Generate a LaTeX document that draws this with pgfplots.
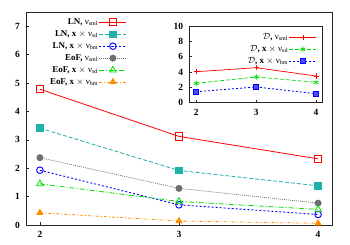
\documentclass[border=0pt]{standalone}
\usepackage{pgfplots}
\pgfplotsset{compat=1.18}
\usepackage{fontspec}
\setmainfont{Liberation Serif}
\definecolor{cred}{RGB}{255,0,0}
\definecolor{cteal}{RGB}{32,178,170}
\definecolor{cblue}{RGB}{0,0,255}
\definecolor{cgray}{RGB}{110,110,110}
\definecolor{cgreen}{RGB}{0,220,0}
\definecolor{corange}{RGB}{255,140,0}
\newcommand{\nus}[1]{{\mdseries ν\textsubscript{#1}}}
\begin{document}
\begin{tikzpicture}
\useasboundingbox (0,0) rectangle (350bp,245bp);
\pgfplotsset{
  gp/.style={
    scale only axis, anchor=south west,
    tick align=inside, tick pos=left, major tick length=3bp,
    axis line style={line width=0.7bp, black!85},
    every tick/.style={black!85, line width=0.5bp},
    /pgf/number format/assume math mode=true,
    ticklabel style={font=\fontsize{9.5}{10}\selectfont\bfseries},
    yticklabel style={xshift=-2.5bp},
    xticklabel style={yshift=-3bp},
    legend style={draw=none, fill=none, font=\fontsize{9}{10}\selectfont\bfseries,
      row sep=0pt, nodes={inner sep=1pt, text height=7.5pt, text depth=2.5pt}},
    legend cell align=right, legend plot pos=right,
    legend image code/.code={\draw[mark repeat=2, mark phase=2] plot coordinates {(0bp,0bp)(13.5bp,0bp)(27bp,0bp)};},
  }
}
\begin{axis}[gp, at={(26bp,20bp)}, width=306bp, height=213bp,
  xmin=1.9, xmax=4.1, ymin=0, ymax=7.5, xtick={2,3,4}, ytick={0,1,...,7},
  legend style={at={(0.34,0.99)}, anchor=north east}]
\addplot[cred, line width=0.8bp, mark=square, mark size=3.6bp, mark options={solid, line width=0.8bp}]
  coordinates {(2,4.78) (3,3.12) (4,2.33)};
\addlegendentry{LN, \nus{sml}}
\addplot[cteal, line width=0.8bp, dash pattern=on 4bp off 2bp, mark=square*, mark size=3.3bp, mark options={solid}]
  coordinates {(2,3.41) (3,1.92) (4,1.38)};
\addlegendentry{LN, x $\times$ \nus{sd}}
\addplot[cblue, line width=0.9bp, dash pattern=on 2bp off 2bp, mark=o, mark size=3.3bp, mark options={solid, line width=0.9bp}]
  coordinates {(2,1.93) (3,0.71) (4,0.37)};
\addlegendentry{LN, x $\times$ \nus{bm}}
\addplot[cgray, line width=0.7bp, dash pattern=on 1bp off 1bp, mark=*, mark size=3.1bp, mark options={solid}]
  coordinates {(2,2.37) (3,1.29) (4,0.77)};
\addlegendentry{EoF, \nus{sml}}
\addplot[cgreen, line width=0.8bp, dash pattern=on 5bp off 2bp on 1bp off 2bp, mark=triangle, mark size=3.8bp, mark options={solid, line width=0.8bp}]
  coordinates {(2,1.45) (3,0.83) (4,0.55)};
\addlegendentry{EoF, x $\times$ \nus{sd}}
\addplot[corange, line width=0.8bp, dash pattern=on 3bp off 2bp on 1bp off 2bp, mark=triangle*, mark size=3.5bp, mark options={solid}]
  coordinates {(2,0.43) (3,0.14) (4,0.06)};
\addlegendentry{EoF, x $\times$ \nus{bm}}
\end{axis}
\begin{axis}[gp, at={(189bp,142.3bp)}, width=133.7bp, height=76.7bp,
  axis background/.style={fill=white},
  xmin=1.88, xmax=4.11, ymin=0, ymax=10, xtick={2,3,4}, ytick={0,2,...,10},
  legend style={at={(0.98,0.96)}, anchor=north east}]
\addplot[cred, line width=0.7bp, mark=+, mark size=2.6bp, mark options={solid}]
  coordinates {(2,4.04) (3,4.56) (4,3.48)};
\addlegendentry{$\mathcal{D}$, \nus{sml}}
\addplot[cgreen, line width=0.7bp, dash pattern=on 4bp off 2bp, mark=asterisk, mark size=2.8bp, mark options={solid}]
  coordinates {(2,2.53) (3,3.35) (4,2.66)};
\addlegendentry{$\mathcal{D}$, x $\times$ \nus{sd}}
\addplot[cblue, line width=0.8bp, dash pattern=on 2bp off 2bp, mark=square*, mark size=2.5bp, mark options={solid, fill=cblue!70}]
  coordinates {(2,1.43) (3,2.05) (4,1.17)};
\addlegendentry{$\mathcal{D}$, x $\times$ \nus{bm}}
\end{axis}
\end{tikzpicture}
\end{document}
